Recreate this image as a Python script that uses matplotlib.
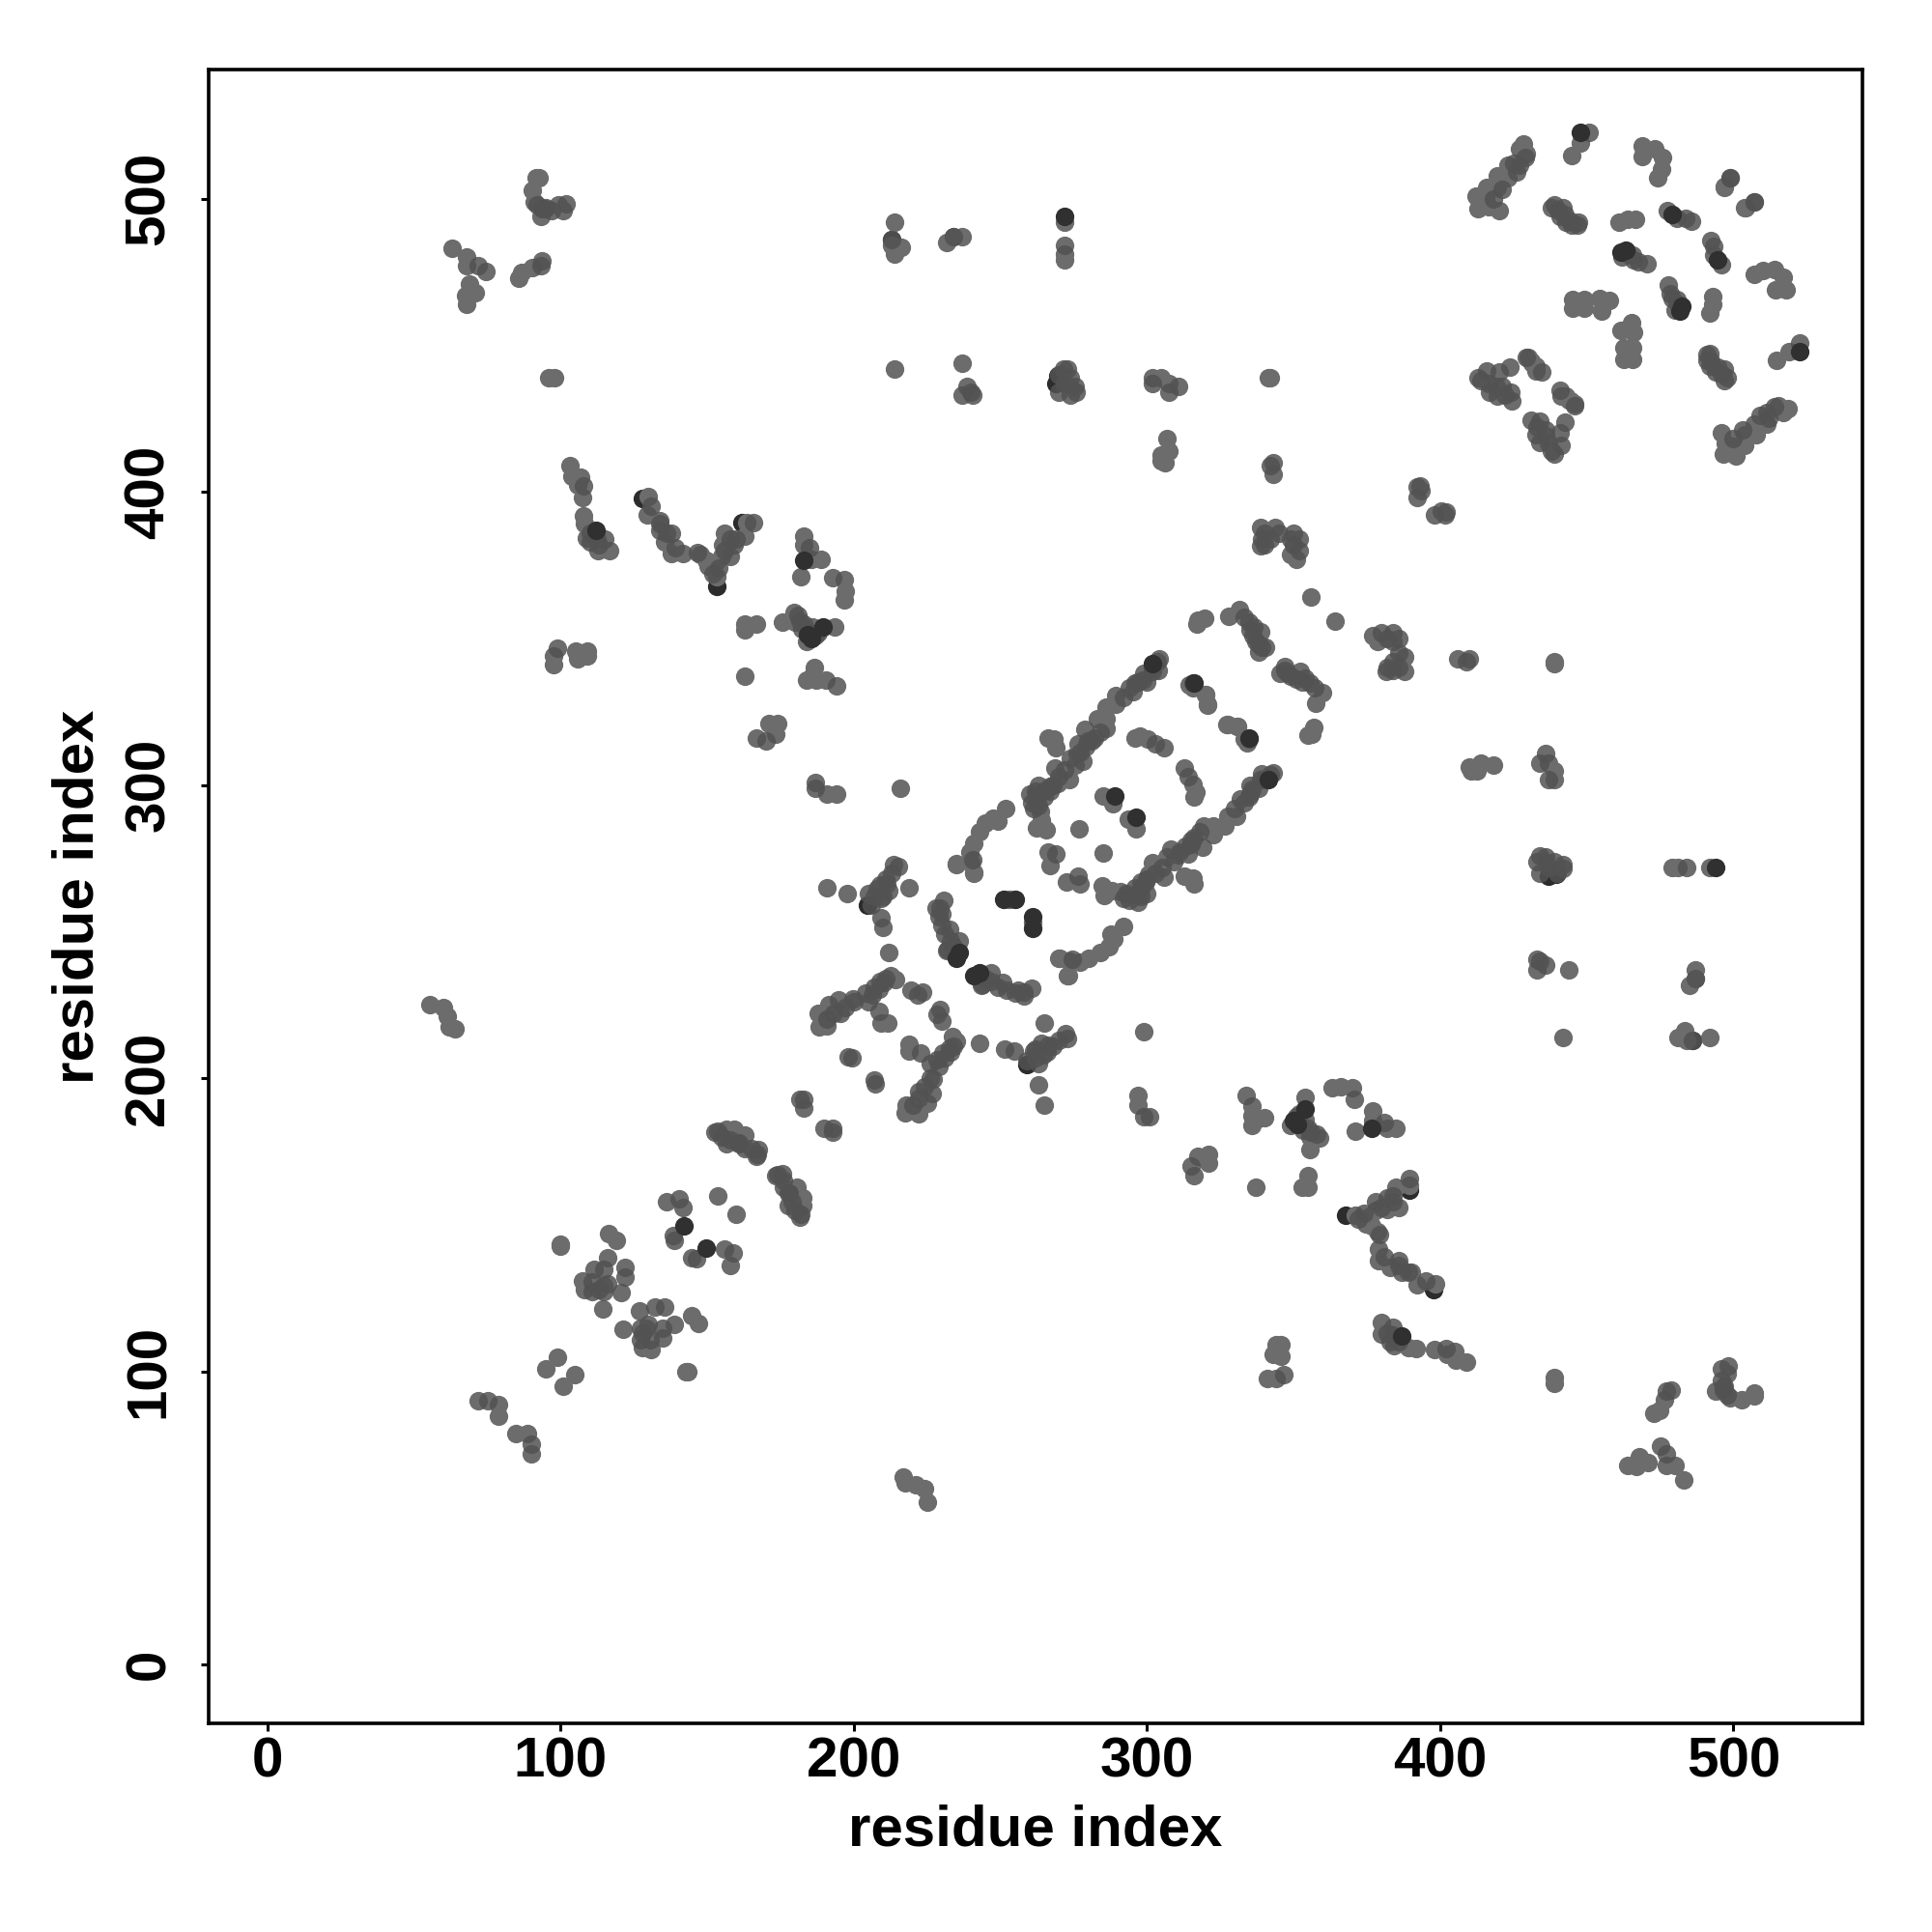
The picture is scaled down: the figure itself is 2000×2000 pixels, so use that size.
import matplotlib
matplotlib.use('Agg')
import matplotlib.pyplot as plt

plt.rcParams['font.family'] = ['Liberation Sans', 'DejaVu Sans']
plt.rcParams['font.weight'] = 'bold'

# contacts from the upper left half, mirrored when drawn
light_i = [91.6, 92.7, 90.5, 91, 93.3, 99.3, 101, 63, 67.8, 68, 74.6, 69, 70.8, 67.5, 67.8, 85.6, 86.7, 90.5, 95.8, 98,
           103.2, 104, 106.7, 105.9, 107.4, 107.9, 108.1, 108.7, 112.5, 112.8, 116.7,
           130, 129.7, 133.9, 135.6, 137.8, 141.6, 147.6, 149.8, 150.4, 153, 155, 153.4, 155.3, 155.9, 159.2, 163, 163.6,
           182.8, 182.8, 185.5, 188.8, 181.9, 196.8, 197, 196.8,
           162.7, 166.9, 162.7, 162.8, 175.6, 179.7, 180, 193.4,
           186.4, 183.9, 187.2, 190.5, 171, 174, 173.5, 166.9, 191, 194,
           97.7, 97.7, 105.2, 105.7, 109, 109,
           213.9, 213, 216.3, 213.9, 231.6, 234, 236.9, 272, 272, 272,
           213.9, 236.9, 236.9, 272.8, 273.9, 273.9,
           301.9, 304.7, 307.4, 341.4, 342, 306.9, 307.4, 304.7, 306.3, 304.7, 342,
           338.7, 343.7, 338.7, 349, 352, 349, 351, 392, 393.5, 55.5, 60, 61.5, 62, 64, 216,
           428.4, 429.3, 427, 423.2, 419.4, 423.2, 416, 419.4, 412.2, 415.5, 412.8, 420, 416.6,
           447.9, 444.8, 468.8, 473.2, 468.8, 475.9, 475.4, 474.3, 496.8, 504,
           461, 463.8, 466.6, 477.6, 480.9, 467.7,
           445.2, 445.2, 449, 449, 454.5, 457.8, 455,
           412.8, 423.8, 416.6, 419.4, 431, 432.5, 441.3, 444, 445.7,
           156.5, 159.2, 163, 163, 166.9, 181.7,
           153.7, 136.2, 141.7, 138.4,
           116.4, 118.9, 100, 100, 115.9, 121.9, 107.6, 114.8, 108.2, 114.8,
           98.8, 95, 71.9, 78.9, 78.9,
           190.8, 197.9, 213.6, 219, 210, 211.9, 212.5, 214.1, 199.8, 191.6, 195.4, 187.8, 188.3, 191,
           209.2, 211.7, 221.8, 198.2, 228.9, 236, 231.7, 235, 241,
           251.9, 249.2, 247.5, 245, 243, 240.8, 239.5, 239.9, 234.9, 240.8,
           304.1, 295.3, 289.3, 289.3, 286, 286, 283.2, 286, 276.6, 276.1, 275.6, 266.2, 268.4, 269,
           268.7, 273.4, 269.5, 263.5, 264, 262.4, 265.7, 284.9, 288.2, 276.9, 266.2, 266.8,
           295.9, 297.5, 300.3, 315.6, 320, 320.6, 327.2, 331, 334.3, 317.3, 319.5, 317,
           327.9, 331.5, 334.8, 338.7, 356]
light_j = [507.1, 507.1, 502.7, 498.9, 494, 497.8, 496, 483, 480, 477, 475, 471, 468, 467, 464, 473, 474.7, 476.4, 439, 439,
           408.9, 405.2, 405, 402.3, 397.9, 391.8, 389, 384.2, 384, 380, 380,
           398.4, 392, 390, 383, 379, 379, 378.7, 376.5, 374.8, 376, 378, 371, 382, 385.8, 382, 385, 389.6,
           385, 382, 377, 377, 371, 370, 366, 363,
           355, 355, 352.9, 337, 355.6, 358.9, 355.6, 354,
           340, 335.9, 335.9, 335.9, 321, 321, 317.5, 316, 297, 297,
           344, 341, 345.7, 343, 345.7, 344,
           492, 484, 483.5, 481, 484.9, 487, 487, 492, 481, 479,
           442, 444, 433, 441.8, 433, 435.7,
           439, 439, 436.8, 439, 439, 418, 414, 410.5, 410, 412.7, 408.8,
           387.8, 387.8, 381.5, 384, 384, 378.6, 377, 401.7, 400.5, 225, 224, 221, 217.5, 217, 299,
           518.7, 515.4, 517, 511.5, 507.7, 507, 503.9, 503.9, 501, 500, 496.7, 496, 497.3,
           519, 514.8, 518, 517, 514.3, 514, 510, 507, 503.9, 497,
           492, 492.9, 492.9, 496, 493.4, 478.6,
           465.6, 462.7, 465.6, 462.7, 466, 465.4, 461.6,
           439, 442.4, 436.9, 432.5, 444.6, 442.9, 432.5, 431.4, 430,
           182.7, 182.7, 180.5, 176.1, 173.4, 192.9,
           160, 158, 155.8, 146.5,
           147, 144.8, 143.4, 142.6, 138.8, 135.5, 130.8, 129.4, 127.8, 127.2,
           105, 100.9, 89.9, 88.8, 84.8,
           265, 262.9, 272.8, 265, 251.3, 243, 234.9, 233.8, 227.2, 225, 222.3, 222.3, 217.6, 217.9,
           219, 219, 228.3, 207.4, 255.2, 247, 243.7, 273.3, 270,
           291.9, 287.8, 288.7, 287, 284, 280, 277, 273.5, 273, 270.2,
           343.2, 332, 330.6, 327.6, 326.5, 322.7, 322.7, 319.4, 313.9, 310.6, 306.8, 316.1, 315.6, 312.8,
           305.7, 301.8, 300.7, 290.9, 288.1, 285.4, 284.8, 296.1, 293.6, 285, 277.1, 272.7,
           316.1, 316.6, 315.6, 333, 330.9, 327.6, 320.5, 319.9, 314.5, 356.2, 356.9, 355,
           357.6, 360, 355.6, 352.3, 364]

mid_i = [93.8, 94.6, 102, 71.9, 93.3, 93.8,
         107.9, 133.9, 137.8, 146.8, 158, 165.8, 185, 192.7, 181.7, 182.2, 186, 194, 170.2, 186.8, 186.8,
         98.8, 213, 234, 272, 239.9, 240.7, 271.7, 275.6, 301.9, 307.4, 310.9, 342.9, 342.9, 238.5,
         450.7, 427, 499, 507, 439, 440.2, 442.4, 444.6, 446.8, 483.6, 485.8, 470.6, 465.5,
         416, 420, 421, 424.3, 429.2, 434.7,
         153.7, 152.6, 156.5, 160.9, 167.5, 182.8, 182.8, 140.6, 138.9,
         111.5, 114.8, 110.9, 121.9, 110.9, 120.8, 114.5, 75.2,
         215.2, 211.4, 208, 209.2, 209.2, 210.3, 208.6, 206.4, 194.9, 191, 208.6, 219.6, 223.4, 199.3, 230.6, 229.5, 232.8,
         240.5, 253,
         303.5, 301.9, 298.6, 295.9, 278.8, 282.1, 279.9, 266.8, 264.6, 262.4, 260.7, 261.3, 269,
         303, 305.7, 315.8, 336.5, 333.2, 340.3, 338.1,
         340, 342, 339, 345, 350, 352, 350, 340, 392, 393,
         270, 272, 274, 270, 276, 441, 443, 445, 438, 442, 447,
         265, 267, 263, 262, 260, 263, 270, 268,
         277, 279, 281, 284, 292, 294, 297, 299, 302, 300, 304, 278, 274, 272,
         207, 209, 211, 213, 206, 205, 210, 212,
         204, 207, 209, 211, 205, 200, 197, 193,
         230, 231, 233, 234, 235, 232, 228, 230,
         155, 158, 161, 165, 167,
         156, 158, 160, 154, 152, 110, 113, 115, 110,
         183, 185, 187, 181, 188, 184, 95, 92, 97,
         418, 421, 426, 429, 425, 462, 464, 466,
         336, 335, 337, 338, 339, 414, 417, 419, 422, 424,
         131, 134, 136, 139, 116, 113]
mid_j = [496.7, 496.7, 498.3, 477, 477, 478.8,
         402, 387, 385.8, 379.4, 384, 389.6, 381, 370.8, 356, 353.4, 354, 333.9, 315, 301, 299,
         346.8, 486, 487, 484, 434, 433, 441.8, 436, 436.8, 434, 436, 410, 406, 436,
         522.5, 511.5, 507, 499, 497.8, 496, 494.5, 492.3, 490.9, 493.4, 492.3, 477.7, 480.8,
         441.3, 441, 435.8, 431, 445.7, 441,
         182.1, 181.6, 177.8, 177.8, 175.6, 192.9, 190, 159, 144.8,
         134.9, 134.9, 130.5, 132.2, 127.2, 126.9, 121.2, 89.9,
         272.2, 266.2, 264.5, 261.2, 254.6, 232.7, 230.5, 228.3, 226.6, 220, 222.8, 230, 229.4, 206.9, 260.7, 258, 250.8,
         274.4, 261,
         341.9, 338.6, 335.9, 334.8, 318.9, 316.1, 315, 299.6, 298, 296.3, 294.1, 291.9, 276.6,
         313.9, 312.6, 334.8, 354, 357.3, 346.9, 345.2,
         386, 384, 384, 386, 382, 380, 386, 382, 398, 402,
         440, 437, 439, 434, 434, 494, 492, 491, 497, 497, 492,
         296, 298, 293, 298, 297, 300, 303, 300,
         311, 313, 315, 318, 330, 333, 335, 338, 340, 335, 339, 308, 309, 305,
         262, 266, 268, 270, 259, 263, 262, 264,
         229, 231, 233, 234, 226, 226, 224, 222,
         252, 249, 247, 245, 243, 244, 258, 256,
         180, 179, 178, 176, 174,
         380, 378, 384, 374, 372, 383, 382, 384, 386,
         355, 352, 351, 358, 352, 349, 497, 498, 496,
         500, 503, 509, 514, 512, 480, 481, 479,
         351, 353, 349, 348, 347, 438, 434, 436, 433, 434,
         395, 389, 386, 381, 130, 128]

# dark spots that sit under the others
under_i = [127.9, 153.4, 161.9, 186, 213, 269, 269.5, 204.8]
under_j = [397.6, 367.7, 389.6, 337, 486, 437, 439.6, 259]

# dark spots that sit on top
top_i = [272, 142.2, 236, 235, 251.2, 255, 289, 189.4,
         334.8, 301.9, 461.6, 463.3, 479.2, 447.9, 112, 182.8, 184.4, 185.5]
top_j = [494, 149.8, 243, 240.9, 261, 261, 296.1, 354,
         316.1, 341.4, 481.9, 482.4, 494.5, 522.5, 386.9, 376.8, 351.2, 350]

tick_values = [0, 100, 200, 300, 400, 500]

fig = plt.figure(figsize=(10, 10), dpi=200)
ax = fig.add_axes([0.108, 0.108, 0.856, 0.856])

ax.scatter(under_i + under_j, under_j + under_i, s=48, color='#2c2c2c', linewidths=0)
ax.scatter(light_i + light_j, light_j + light_i, s=48, color='#6c6c6c', linewidths=0)
ax.scatter(mid_i + mid_j, mid_j + mid_i, s=48, color='#525252', alpha=0.85, linewidths=0)
ax.scatter(top_i + top_j, top_j + top_i, s=48, color='#303030', linewidths=0)

ax.set_xlim(-20, 544)
ax.set_ylim(-20, 544)
ax.set_xticks(tick_values)
ax.set_yticks(tick_values)
ax.tick_params(length=3, width=1.1, labelsize=21)
ax.tick_params(axis='x', pad=2)
ax.tick_params(axis='y', pad=9.3)
for label in ax.get_yticklabels():
    label.set_rotation(90)
    label.set_va('center')
for s in ax.spines.values():
    s.set_linewidth(1.3)

ax.set_xlabel('residue index', fontsize=21.6, fontweight='bold', labelpad=5.7)
ax.set_ylabel('residue index', fontsize=21.6, fontweight='bold', labelpad=7)

fig.savefig('out.png')
